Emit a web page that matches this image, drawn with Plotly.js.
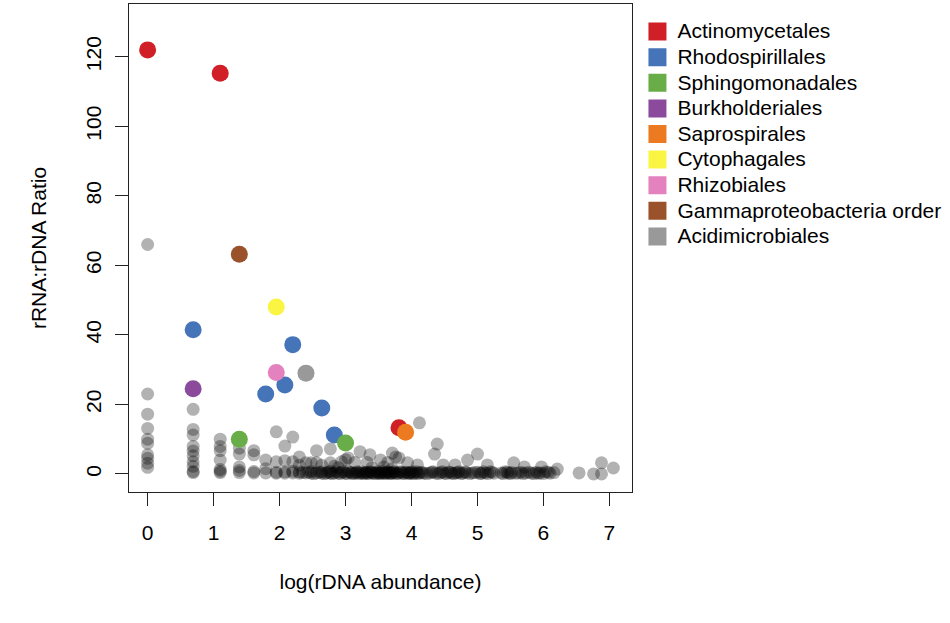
<!DOCTYPE html>
<html>
<head>
<meta charset="utf-8">
<script src="https://cdn.plot.ly/plotly-3.0.1.min.js"></script>
<style>
  html, body { margin: 0; padding: 0; background: #fff; }
  #ratio_plot { width: 950px; height: 623px; }
</style>
</head>
<body>
<div id="ratio_plot"></div>
<script>
//------------------------------------background orders (grey, transparent)---------------------------------------------//
var bg_x = [0, 0, 0, 0, 0, 0, 0, 0, 0, 0,
  0.69, 0.69, 0.69, 0.69, 0.69, 0.69, 0.69, 0.69, 0.69, 0.69,
  1.10, 1.10, 1.10, 1.10, 1.10, 1.10, 1.10,
  1.39, 1.39, 1.39, 1.39, 1.39,
  1.61, 1.61, 1.61, 1.61,
  1.79, 1.79, 1.79,
  1.95, 1.95, 1.95, 1.95,
  2.08, 2.08, 2.08, 2.08,
  2.20, 2.20, 2.20, 2.20,
  2.30, 2.30, 2.30, 2.30,
  2.40, 2.40, 2.48, 2.48, 2.48, 2.56, 2.56, 2.56, 2.64, 2.64, 2.64, 2.71, 2.77, 2.77, 2.77, 2.77, 2.83, 2.83, 2.89, 2.89, 2.94, 2.94, 3.00, 3.00,
  3.04, 3.04, 3.09, 3.14, 3.14, 3.18, 3.22, 3.22, 3.26, 3.30, 3.33, 3.33, 3.37, 3.37, 3.40, 3.40, 3.43, 3.47, 3.50, 3.53, 3.53, 3.56, 3.58, 3.58, 3.61, 3.64, 3.64, 3.66, 3.69, 3.71, 3.71, 3.71, 3.74, 3.76, 3.76, 3.81, 3.81, 3.85, 3.89, 3.94, 3.94, 3.97,
  4.01, 4.04, 4.09, 4.09, 4.12, 4.13, 4.19, 4.28, 4.33, 4.35, 4.37, 4.39, 4.44, 4.48, 4.50, 4.56, 4.61, 4.66, 4.67, 4.72, 4.78, 4.83, 4.85, 4.92,
  5.00, 5.01, 5.06, 5.12, 5.15, 5.19, 5.25, 5.36, 5.42, 5.47, 5.52, 5.55, 5.58, 5.66, 5.71, 5.73, 5.82, 5.89, 5.95, 5.97,
  6.03, 6.10, 6.16, 6.21, 6.54, 6.76, 6.88, 6.88, 7.06,
  // the crowded run along zero
  2.35, 2.44, 2.52, 2.60, 2.68, 2.74, 2.80, 2.86, 2.92, 2.97, 3.02, 3.07, 3.11, 3.16, 3.20, 3.24,
  3.28, 3.32, 3.35, 3.39, 3.45, 3.49, 3.52, 3.55, 3.60, 3.63, 3.68, 3.73, 3.78, 3.83, 3.87, 3.91,
  3.96, 3.99, 4.03, 4.07, 4.11, 4.16, 4.23, 4.31, 4.41, 4.47, 4.53, 4.59, 4.64, 4.70, 4.75, 4.81,
  4.88, 4.96, 5.04, 5.09, 5.16, 5.22, 5.39, 5.45, 5.50, 5.62, 5.69, 5.78, 5.86, 5.92, 6.00, 6.07];
var bg_y = [66, 23, 17.2, 13.1, 10, 8.8, 5.5, 4.5, 3.1, 1.9,
  18.6, 12.8, 11.2, 7.9, 6.6, 5.2, 3.5, 2.2, 0.7, 0.4,
  10, 7.9, 6.7, 4, 1.3, 0.8, 0.4,
  7.4, 5.7, 2, 1, 0.4,
  6.7, 5.5, 0.7, 0.3,
  4, 1.5, 0.3,
  12.1, 3.5, 0.5, 0.2,
  8, 3.8, 0.6, 0.2,
  10.6, 3.5, 0.8, 0.3,
  4.9, 2.5, 0.6, 0.2,
  3.2, 0.3, 3.2, 0.7, 0.2, 6.7, 3.2, 0.3, 2.5, 0.6, 0.2, 0.3, 7.2, 3.2, 0.8, 0.2, 2.2, 0.3, 1.8, 0.2, 3.5, 0.5, 4.1, 0.2,
  4.6, 0.7, 0.3, 3.3, 0.2, 0.6, 6.4, 0.3, 0.2, 0.4, 3.3, 0.2, 5.5, 0.6, 1.8, 0.3, 0.2, 0.5, 0.2, 4.0, 0.3, 0.7, 2.0, 0.2, 0.4, 3.3, 0.2, 0.5, 0.2, 6.0, 1.5, 0.3, 0.6, 4.9, 0.2, 4.6, 0.3, 0.5, 0.2, 3.2, 0.4, 0.2,
  0.6, 0.2, 2.6, 0.3, 14.7, 0.5, 0.2, 0.3, 0.6, 5.7, 0.2, 8.6, 0.4, 2.6, 0.2, 0.5, 0.2, 2.6, 0.3, 0.6, 0.2, 0.4, 4.0, 0.3,
  5.7, 0.5, 0.2, 0.3, 2.6, 0.6, 0.2, 0.3, 0.6, 0.2, 0.4, 3.2, 0.2, 0.5, 2.0, 0.3, 0.2, 0.5, 0.3, 2.0,
  0.6, 0.2, 0.4, 1.4, 0.3, 0.0, 3.2, 0.0, 1.7,
  0.4, 0.5, 0.1, 0.5, 0.1, 0.5, 0.1, 0.6, 0.1, 0.6, 0.1, 0.5, 0.1, 0.4, 0.1, 0.6,
  0.1, 0.5, 0.1, 0.5, 0.1, 0.6, 0.1, 0.4, 0.1, 0.6, 0.1, 0.5, 0.1, 0.6, 0.1, 0.5,
  0.1, 0.4, 0.1, 0.6, 0.1, 0.4, 0.1, 0.5, 0.1, 0.6, 0.1, 0.5, 0.1, 0.4, 0.1, 0.6,
  0.1, 0.4, 0.1, 0.6, 0.1, 0.5, 0.1, 0.5, 0.1, 0.3, 0.1, 0.5, 0.1, 0.2, 0.1, 0.5];

//------------------------------------highlighted orders---------------------------------------------//
var orders = ['Actinomycetales', 'Rhodospirillales', 'Sphingomonadales', 'Burkholderiales',
  'Saprospirales', 'Cytophagales', 'Rhizobiales', 'Gammaproteobacteria order', 'Acidimicrobiales'];
var order_colors = ['#D01F26', '#4674B8', '#68AD48', '#8B4A9C', '#EC7A21',
  '#FAF542', '#E382BE', '#9A522A', '#999999'];
var order_x = [
  [0, 1.10, 3.81],
  [0.69, 2.20, 2.08, 1.79, 2.64, 2.83],
  [1.39, 3.00],
  [0.69],
  [3.91],
  [1.95],
  [1.95],
  [1.39],
  [2.40]
];
var order_y = [
  [122, 115.3, 13.3],
  [41.5, 37.2, 25.6, 23, 19, 11.2],
  [10, 8.9],
  [24.5],
  [12],
  [48],
  [29.2],
  [63.2],
  [29]
];

var font_family = 'Liberation Sans, Arial, Helvetica, sans-serif';

var data = [{
  x: bg_x,
  y: bg_y,
  type: 'scatter',
  mode: 'markers',
  marker: {size: 13, color: 'rgba(0,0,0,0.3)'},
  showlegend: false,
  hoverinfo: 'x+y'
}];

// coloured points
for (var i = 0; i < orders.length; i++) {
  data.push({
    x: order_x[i],
    y: order_y[i],
    type: 'scatter',
    mode: 'markers',
    name: orders[i],
    marker: {size: 17, color: order_colors[i]},
    showlegend: false
  });
}

// legend entries as square keys (bigger text span, tighter line spacing)
for (var j = 0; j < orders.length; j++) {
  data.push({
    x: [null],
    y: [null],
    type: 'scatter',
    mode: 'markers',
    name: '<span style="font-size:21px">' + orders[j] + '</span>',
    marker: {symbol: 'square', size: 16, color: order_colors[j],
             line: {color: order_colors[j], width: 2}},
    showlegend: true
  });
}

var layout = {
  width: 950,
  height: 623,
  margin: {l: 129, r: 318, t: 4, b: 131},
  paper_bgcolor: '#fff',
  plot_bgcolor: '#fff',
  font: {family: font_family, size: 21, color: '#000'},
  showlegend: true,
  legend: {
    xref: 'container', yref: 'container',
    x: 0.671, y: 0.978, xanchor: 'left', yanchor: 'top',
    font: {family: font_family, size: 17.4, color: '#000'},
    bgcolor: 'rgba(0,0,0,0)',
    itemclick: false
  },
  xaxis: {
    range: [-0.2824, 7.3424],
    tickvals: [0, 1, 2, 3, 4, 5, 6, 7],
    ticks: 'outside', ticklen: 13, tickwidth: 1.3, tickcolor: '#222',
    ticklabelstandoff: 9,
    showline: true, mirror: true, linecolor: '#222', linewidth: 1.3,
    showgrid: false, zeroline: false,
    tickfont: {size: 21},
    title: {text: 'log(rDNA abundance)', standoff: 30, font: {size: 21}},
    automargin: false
  },
  yaxis: {
    range: [-5.2, 135.2],
    tickvals: [0, 20, 40, 60, 80, 100, 120],
    tickangle: -90,
    ticks: 'outside', ticklen: 13, tickwidth: 1.3, tickcolor: '#222',
    ticklabelstandoff: 5,
    showline: true, mirror: true, linecolor: '#222', linewidth: 1.3,
    showgrid: false, zeroline: false,
    tickfont: {size: 21},
    title: {text: 'rRNA:rDNA Ratio', standoff: 30, font: {size: 21}},
    automargin: false
  }
};

var config = {responsive: false, displayModeBar: false};
Plotly.newPlot("ratio_plot", data, layout, config);
</script>
</body>
</html>
